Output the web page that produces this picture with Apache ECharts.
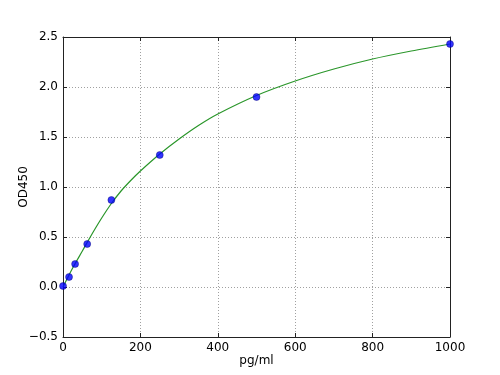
<!DOCTYPE html>
<html>
<head>
<meta charset="utf-8">
<script src="https://cdn.jsdelivr.net/npm/echarts@6/dist/echarts.min.js"></script>
<style>
html,body{margin:0;padding:0;background:#fff;}
#chart{width:500px;height:375px;}
</style>
</head>
<body>
<div id="chart"></div>
<script>
// Standard points (pg/ml, OD450)
const concentrations = [0, 15.6, 31.25, 62.5, 125, 250, 500, 1000];
const odValues = [0.01, 0.10, 0.23, 0.43, 0.87, 1.32, 1.90, 2.43];
// Fitted curve
const curveX = [0, 25, 50, 75, 100, 125, 150, 175, 200, 250, 300, 350, 400, 500, 600, 700, 800, 900, 1000];
const curveY = [0.0, 0.19, 0.36, 0.53, 0.69, 0.835, 0.96, 1.065, 1.16, 1.33, 1.48, 1.615, 1.73, 1.915, 2.06, 2.18, 2.28, 2.36, 2.43];
const xTicks = [0, 200, 400, 600, 800, 1000];
const yTicks = [-0.5, 0.0, 0.5, 1.0, 1.5, 2.0, 2.5];

const font = 'DejaVu Sans';
const frameColor = '#222';
const chart = echarts.init(document.getElementById('chart'));
const fmtY = v => v.toFixed(1).replace('-', '\u2212');
const fmtX = v => String(Math.round(v));
const baseAxisLine = {show: true, onZero: false, lineStyle: {color: frameColor, width: 1}};
const tick = {show: true, inside: true, length: 4, lineStyle: {color: frameColor}};
const split = {show: true, lineStyle: {color: '#a0a0a0', type: [1, 2], width: 1}};

chart.setOption({
  animation: false,
  backgroundColor: '#fff',
  grid: {left: 63, right: 50, top: 37, bottom: 38, containLabel: false, outerBoundsMode: 'none'},
  xAxis: [{
    type: 'value', min: xTicks[0], max: xTicks[xTicks.length - 1], interval: 200,
    position: 'bottom',
    name: 'pg/ml', nameLocation: 'middle', nameGap: 18, nameMoveOverlap: false,
    nameTextStyle: {fontFamily: font, fontSize: 12, color: '#000', verticalAlign: 'top'},
    axisLine: baseAxisLine, axisTick: tick, splitLine: split,
    axisLabel: {fontFamily: font, fontSize: 12, color: '#000', margin: 5, formatter: fmtX}
  }, {
    type: 'value', min: xTicks[0], max: xTicks[xTicks.length - 1], interval: 200,
    position: 'top',
    axisLine: baseAxisLine, axisTick: tick, splitLine: {show: false},
    axisLabel: {show: false}
  }],
  yAxis: [{
    type: 'value', min: yTicks[0], max: yTicks[yTicks.length - 1], interval: 0.5,
    position: 'left',
    name: 'OD450', nameLocation: 'middle', nameGap: 33, nameRotate: 90, nameMoveOverlap: false,
    nameTextStyle: {fontFamily: font, fontSize: 12, color: '#000', verticalAlign: 'bottom'},
    axisLine: baseAxisLine, axisTick: tick, splitLine: split,
    axisLabel: {fontFamily: font, fontSize: 12, color: '#000', margin: 5, formatter: fmtY}
  }, {
    type: 'value', min: yTicks[0], max: yTicks[yTicks.length - 1], interval: 0.5,
    position: 'right',
    axisLine: baseAxisLine, axisTick: tick, splitLine: {show: false},
    axisLabel: {show: false}
  }],
  series: [{
    type: 'line',
    data: curveX.map((x, i) => [x, curveY[i]]),
    smooth: 0.3,
    showSymbol: false,
    symbol: 'none',
    lineStyle: {color: '#2a962a', width: 1.2},
    clip: true,
    z: 2
  }, {
    type: 'scatter',
    data: concentrations.map((x, i) => [x, odValues[i]]),
    symbol: 'circle',
    symbolSize: 7,
    itemStyle: {color: '#0000ff', borderColor: '#000066', borderWidth: 0.5},
    clip: false,
    z: 3
  }]
});
</script>
</body>
</html>
